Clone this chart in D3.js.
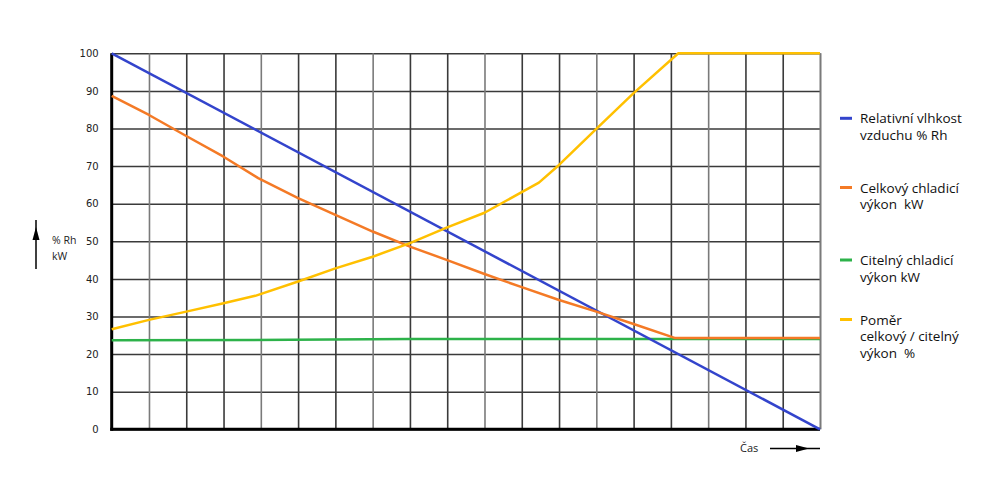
<!DOCTYPE html>
<html>
<head>
<meta charset="utf-8">
<script src="https://cdn.jsdelivr.net/npm/d3@7"></script>
<style>
  body { margin: 0; background: #fff; }
  svg { display: block; }
</style>
</head>
<body>
<svg id="chart" width="1000" height="495"></svg>
<script>
// ---- data (x in grid columns 0..19, y in % Rh / kW) ----
const yTicks = [0, 10, 20, 30, 40, 50, 60, 70, 80, 90, 100];
const xGrid = d3.range(0, 20);

const rhX = [0, 19];
const rhY = [100, 0];

const totalX = [0, 1, 2, 3, 3.93, 5, 6, 7, 8, 9, 10, 11, 12, 13, 14, 15.1, 19];
const totalY = [88.7, 83.6, 78, 72.5, 66.8, 61.5, 57, 52.6, 48.6, 45, 41.3, 37.8, 34.4, 31.3, 28, 24.3, 24.3];

const sensX = [0, 4.8, 8, 19];
const sensY = [23.7, 23.8, 24.0, 24.0];

const ratioX = [0, 1, 2, 3, 3.85, 5, 6, 7, 8, 9, 10, 11.46, 12, 13, 14, 15.2, 19];
const ratioY = [26.6, 29.1, 31.3, 33.5, 35.5, 39.3, 42.8, 45.9, 49.5, 53.7, 57.6, 65.6, 70.3, 79.9, 89.4, 100, 100];

const seriesNames = [
  ["Relativní vlhkost", "vzduchu % Rh"],
  ["Celkový chladicí", "výkon  kW"],
  ["Citelný chladicí", "výkon kW"],
  ["Poměr", "celkový / citelný", "výkon  %"]
];
const seriesColors = ["#3344cc", "#f47a26", "#2db24a", "#ffc000"];
const yUnitLabel = ["% Rh", "kW"];
const xAxisLabel = "Čas";

// ---- layout ----
const svg = d3.select("#chart");
const pL = 111.7, pR = 820, pT = 53.3, pB = 429.3;
const x = d3.scaleLinear().domain([0, 19]).range([pL, pR]);
const y = d3.scaleLinear().domain([0, 100]).range([pB, pT]);

// grid: horizontal
const gy = svg.append("g").attr("transform", `translate(${pL},0)`)
  .call(d3.axisLeft(y).tickValues(yTicks).tickSize(-(pR - pL)).tickFormat(""));
gy.select(".domain").remove();
gy.selectAll(".tick line").attr("stroke", "#3a3a3a").attr("stroke-width", 1.5);

// grid: vertical
const gx = svg.append("g").attr("transform", `translate(0,${pB})`)
  .call(d3.axisBottom(x).tickValues(xGrid.concat([19])).tickSize(-(pB - pT)).tickFormat(""));
gx.select(".domain").remove();
gx.selectAll(".tick line").attr("stroke", d => (d % 3 === 1 ? "#7a7a7a" : "#3a3a3a")).attr("stroke-width", 1.6);

// tick labels
const yl = svg.append("g").attr("transform", `translate(${pL},0)`)
  .call(d3.axisLeft(y).tickValues(yTicks).tickSize(0).tickPadding(13));
yl.select(".domain").remove();
yl.selectAll("text").attr("font-family", "DejaVu Sans, Verdana, sans-serif")
  .attr("font-size", 10).attr("fill", "#222");

// axes thick
svg.append("line").attr("x1", pL).attr("x2", pL).attr("y1", pT).attr("y2", pB + 1.5)
  .attr("stroke", "#000").attr("stroke-width", 3);
svg.append("line").attr("x1", pL - 1.5).attr("x2", pR).attr("y1", pB).attr("y2", pB)
  .attr("stroke", "#000").attr("stroke-width", 3);

// series
const line = d3.line().x(d => x(d[0])).y(d => y(d[1]));
const series = [
  d3.zip(sensX, sensY),
  d3.zip(rhX, rhY),
  d3.zip(totalX, totalY),
  d3.zip(ratioX, ratioY)
];
const seriesColorOrder = [seriesColors[2], seriesColors[0], seriesColors[1], seriesColors[3]];
series.forEach((s, i) => {
  svg.append("path").datum(s).attr("d", line)
    .attr("fill", "none").attr("stroke", seriesColorOrder[i])
    .attr("stroke-width", 2.5).attr("stroke-linejoin", "round");
});

// legend
const legendFont = "Open Sans, Liberation Sans, sans-serif";
const legendTop = [118.3, 187.5, 260, 319.5];
seriesNames.forEach((lines, i) => {
  svg.append("line").attr("x1", 840).attr("x2", 852)
    .attr("y1", legendTop[i]).attr("y2", legendTop[i])
    .attr("stroke", seriesColors[i]).attr("stroke-width", 3);
  lines.forEach((t, j) => {
    svg.append("text").attr("x", 860).attr("y", legendTop[i] + 5 + j * 16.7)
      .attr("font-family", legendFont).attr("font-size", 13.5).attr("fill", "#111")
      .style("white-space", "pre")
      .text(t);
  });
});

// y unit label and arrow
svg.append("line").attr("x1", 36).attr("x2", 36).attr("y1", 220).attr("y2", 269)
  .attr("stroke", "#000").attr("stroke-width", 1.5);
svg.append("path").attr("d", "M36,227 L32.5,240 L39.5,240 Z").attr("fill", "#000");
yUnitLabel.forEach((t, j) => {
  svg.append("text").attr("x", 52).attr("y", 244 + j * 15.5)
    .attr("font-family", legendFont).attr("font-size", 10.5).attr("fill", "#222").text(t);
});

// x label and arrow
svg.append("text").attr("x", 740).attr("y", 452)
  .attr("font-family", legendFont).attr("font-size", 11).attr("fill", "#222").text(xAxisLabel);
svg.append("line").attr("x1", 770).attr("x2", 820).attr("y1", 448.5).attr("y2", 448.5)
  .attr("stroke", "#000").attr("stroke-width", 1.5);
svg.append("path").attr("d", "M809,448.5 L796,445 L796,452 Z").attr("fill", "#000");
</script>
</body>
</html>
